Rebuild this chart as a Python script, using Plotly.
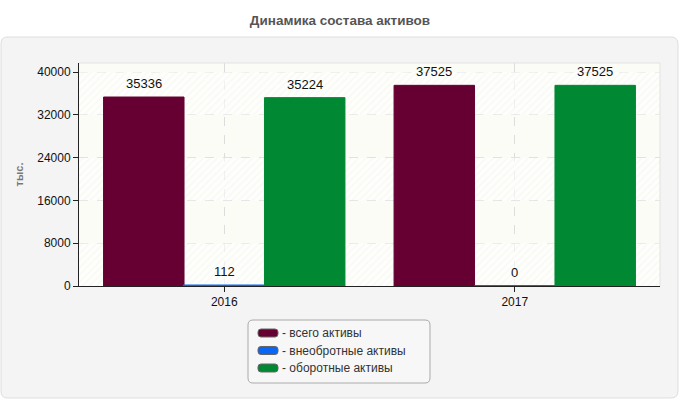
import plotly.graph_objects as go

years = ["2016", "2017"]
total_assets = [35336, 37525]
noncurrent_assets = [112, 0]
current_assets = [35224, 37525]
series_names = ["- всего активы", "- внеобротные активы", "- оборотные активы"]
series_colors = ["#660033", "#0a66f5", "#008833"]
y_ticks = [0, 8000, 16000, 24000, 32000, 40000]
y_max = 41700

# plot-area geometry in pixels (for paper conversion of decorations)
L, R, T, B = 79, 660, 63, 286
W, H = R - L, B - T


def px(xp, yp):
    return (xp - L) / W, (B - yp) / H


def px_path(path):
    toks = path.replace(",", " ").split()
    res, nums = [], []
    for t in toks:
        if t.isalpha():
            res.append(t)
        else:
            nums.append(float(t))
            if len(nums) == 2:
                a, b = px(*nums)
                res.append(f"{a:.5f},{b:.5f}")
                nums = []
    return " ".join(res)


fig = go.Figure()

# alternating hatched background bands
band_x, band_base = [], []
for c in years:
    for i in range(0, len(y_ticks) - 1, 2):
        band_x.append(c)
        band_base.append(y_ticks[i])
band_h = y_ticks[1] - y_ticks[0]
fig.add_trace(go.Bar(
    x=band_x, y=[band_h] * len(band_x), base=band_base, width=1, offset=-0.5,
    marker=dict(color="rgba(255,255,255,0.6)", line=dict(width=0),
                pattern=dict(shape="/", fgcolor="rgba(0,0,0,0.05)",
                             bgcolor="rgba(255,255,255,0.6)", size=5, solidity=0.25)),
    showlegend=False, hoverinfo="skip", textposition="none"))

bw = 0.277
offsets = [-1.5 * bw, -0.5 * bw, 0.5 * bw]
annotations = []
for vals, name, col, off in zip([total_assets, noncurrent_assets, current_assets],
                                series_names, series_colors, offsets):
    fig.add_trace(go.Bar(
        x=years, y=vals, name=name, width=bw, offset=off,
        marker=dict(color=col, line=dict(color=col, width=2 if col == "#0a66f5" else 1)),
        showlegend=False))
    for i, v in enumerate(vals):
        annotations.append(dict(
            x=i + off + bw / 2, y=v, xref="x", yref="y", text=str(v),
            showarrow=False, yanchor="bottom", yshift=4,
            font=dict(size=13, color="#111", family="Liberation Sans, Arial")))

# custom legend: swatches + text
legend_rows = [333, 350.5, 368]
for name, col, yrow in zip(series_names, series_colors, legend_rows):
    sw = f"M 261,{yrow-4} L 275,{yrow-4} Q 278,{yrow-4} 278,{yrow-1} L 278,{yrow+1} Q 278,{yrow+4} 275,{yrow+4} L 261,{yrow+4} Q 258,{yrow+4} 258,{yrow+1} L 258,{yrow-1} Q 258,{yrow-4} 261,{yrow-4} Z"
    fig.add_shape(type="path", path=px_path(sw), xref="paper", yref="paper",
                  fillcolor=col, line=dict(color="#666", width=1))
    ax, ay = px(280, yrow)
    annotations.append(dict(x=ax, y=ay, xref="paper", yref="paper", text=name,
                            showarrow=False, xanchor="left", yanchor="middle",
                            font=dict(size=12, color="#333")))

panel = "M 7,37 L 671,37 Q 678,37 678,44 L 678,391 Q 678,398 671,398 L 7,398 Q 1,398 1,391 L 1,44 Q 1,37 7,37 Z"
legend_box = "M 253,320 L 425,320 Q 430,320 430,325 L 430,378 Q 430,383 425,383 L 253,383 Q 248,383 248,378 L 248,325 Q 248,320 253,320 Z"
fig.add_shape(type="path", path=px_path(panel), xref="paper", yref="paper", layer="below",
              fillcolor="#f4f4f4", line=dict(color="#dedede", width=1))
fig.add_shape(type="rect", x0=0, x1=1, y0=0, y1=1, xref="paper", yref="paper", layer="below",
              fillcolor="#fcfcf6", line=dict(width=0))
fig.add_shape(type="path", path=px_path(legend_box), xref="paper", yref="paper", layer="below",
              fillcolor="#f7f7f7", line=dict(color="#aaaaaa", width=1))
fig.add_shape(type="line", x0=0, x1=1, y0=1, y1=1, xref="paper", yref="paper",
              line=dict(color="#e2e2e2", width=1))
fig.add_shape(type="line", x0=1, x1=1, y0=0, y1=1, xref="paper", yref="paper",
              line=dict(color="#e2e2e2", width=1))

fig.update_layout(
    width=680, height=400,
    margin=dict(l=L, r=680 - R, t=T, b=400 - B),
    paper_bgcolor="white", plot_bgcolor="#fcfcf6",
    barmode="overlay",
    font=dict(family="Liberation Sans, Arial", size=12, color="#222"),
    title=dict(text="<b>Динамика состава активов</b>", x=0.5, xref="container",
               xanchor="center", y=1 - 20 / 400, yref="container", yanchor="middle",
               font=dict(size=13.5, color="#555", family="Liberation Sans, Arial")),
    showlegend=False,
    annotations=annotations,
)

fig.update_xaxes(type="category", showline=True, linecolor="#222", linewidth=1,
                 ticks="outside", ticklen=5, tickcolor="#222",
                 showgrid=True, gridcolor="#dddddd", griddash="dash", gridwidth=1,
                 tickfont=dict(size=12, color="#111"), range=[-0.5, 1.5])
fig.update_yaxes(range=[0, y_max], tickvals=y_ticks, ticktext=[str(t) for t in y_ticks],
                 showline=True, linecolor="#222",
                 linewidth=1, ticks="outside", ticklen=5, tickcolor="#222",
                 showgrid=True, gridcolor="#dddddd", griddash="dash", gridwidth=1,
                 zeroline=False, tickfont=dict(size=12, color="#111"),
                 title=dict(text="<b>тыс.</b>", font=dict(size=11, color="#777"), standoff=11))

fig.write_html("out.html")
